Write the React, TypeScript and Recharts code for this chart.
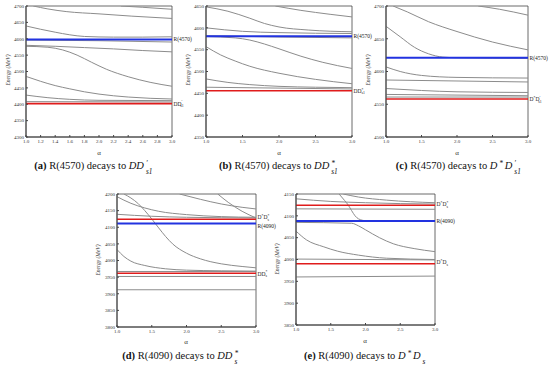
import React from "react";
import { LineChart, Line, XAxis, YAxis, ReferenceLine, ReferenceArea } from "recharts";

type Pt = [number, number];
type Seg = { t: string; sup?: string; sub?: string };

// alpha ticks
const xTicksFine = [1.0, 1.2, 1.4, 1.6, 1.8, 2.0, 2.2, 2.4, 2.6, 2.8, 3.0];
const xTicksHalf = [1.0, 1.5, 2.0, 2.5, 3.0];

// (a) R(4570) -> DD's1
const aTicks = [4300, 4350, 4400, 4450, 4500, 4550, 4600, 4650, 4700];
const aLevels: Pt[][] = [
  [[1.1, 4700], [1.3, 4691], [1.55, 4683], [2.0, 4676], [2.45, 4669], [3.0, 4662]],
  [[2.3, 4700], [2.6, 4696], [3.0, 4690]],
  [[1.0, 4639], [1.2, 4629], [1.4, 4620], [1.6, 4612], [1.8, 4607], [2.2, 4605], [2.6, 4605], [3.0, 4606]],
  [[1.0, 4596], [2.0, 4594], [3.0, 4590]],
  [[1.0, 4580], [1.4, 4577], [1.8, 4573], [2.2, 4569], [2.6, 4564], [3.0, 4560]],
  [[1.0, 4577], [1.3, 4574], [1.5, 4566], [1.7, 4550], [1.9, 4528], [2.1, 4507], [2.4, 4484], [2.7, 4467], [3.0, 4455]],
  [[1.0, 4485], [1.2, 4470], [1.4, 4457], [1.6, 4447], [1.8, 4438], [2.0, 4431], [2.4, 4422], [3.0, 4416]],
  [[1.0, 4428], [1.3, 4420], [1.6, 4415], [2.0, 4412], [3.0, 4411]],
  [[1.0, 4408], [3.0, 4407]],
];
const aState = 4598;
const aThreshold = 4402;

// (b) R(4570) -> DD*s1
const bTicks = [4350, 4400, 4450, 4500, 4550, 4600, 4650];
const bLevels: Pt[][] = [
  [[1.0, 4648], [1.3, 4638], [1.6, 4622], [1.8, 4610], [2.0, 4602], [2.4, 4595], [3.0, 4591]],
  [[1.95, 4650], [2.3, 4640], [2.7, 4631], [3.0, 4625]],
  [[1.0, 4600], [1.5, 4592], [2.0, 4589], [3.0, 4587]],
  [[1.0, 4582], [2.0, 4579], [3.0, 4577]],
  [[1.0, 4580], [1.4, 4577], [1.6, 4572], [1.8, 4563], [2.0, 4552], [2.3, 4535], [2.6, 4521], [3.0, 4507]],
  [[1.0, 4557], [1.2, 4538], [1.4, 4524], [1.6, 4512], [2.0, 4496], [2.5, 4482], [3.0, 4472]],
  [[1.0, 4483], [1.3, 4475], [1.6, 4470], [2.0, 4466], [2.5, 4464], [3.0, 4463]],
  [[1.0, 4464], [3.0, 4460]],
];
const bState = 4581;
const bThreshold = 4456;

// (c) R(4570) -> D*D's1
const cTicks = [4500, 4550, 4600, 4650, 4700];
const cLevels: Pt[][] = [
  [[1.1, 4700], [1.3, 4691], [1.6, 4676], [2.0, 4661], [2.5, 4645], [3.0, 4633]],
  [[2.3, 4700], [2.6, 4695], [3.0, 4686]],
  [[1.0, 4669], [1.2, 4653], [1.4, 4637], [1.6, 4627], [1.8, 4622], [2.0, 4621], [3.0, 4620]],
  [[1.0, 4607], [1.2, 4600], [1.5, 4594], [2.0, 4591], [3.0, 4590]],
  [[1.0, 4587], [3.0, 4584]],
  [[1.0, 4574], [1.5, 4571], [2.0, 4569], [3.0, 4568]],
  [[1.0, 4565], [3.0, 4563]],
  [[1.0, 4561], [3.0, 4561]],
];
const cState = 4621;
const cThreshold = 4558;

// (d) R(4090) -> DD*s
const dTicks = [3800, 3850, 3900, 3950, 4000, 4050, 4100, 4150, 4200];
const dLevels: Pt[][] = [
  [[1.0, 4192], [1.2, 4172], [1.4, 4158], [1.6, 4148], [2.0, 4138], [2.5, 4132], [3.0, 4130]],
  [[1.1, 4200], [1.2, 4188], [1.3, 4172], [1.4, 4150], [1.5, 4125], [1.6, 4098], [1.7, 4072], [1.8, 4050], [2.0, 4022], [2.2, 4005], [2.5, 3990], [2.8, 3982], [3.0, 3978]],
  [[1.0, 4139], [1.5, 4133], [2.0, 4130], [3.0, 4128]],
  [[1.9, 4200], [2.2, 4184], [2.5, 4170], [2.8, 4160], [3.0, 4155]],
  [[2.45, 4200], [2.6, 4175], [2.8, 4148], [3.0, 4128]],
  [[1.0, 4033], [1.1, 4012], [1.2, 3998], [1.4, 3985], [1.7, 3975], [2.0, 3971], [2.5, 3969], [3.0, 3968]],
  [[1.0, 3967], [3.0, 3967]],
  [[1.0, 3952], [3.0, 3952]],
  [[1.0, 3912], [3.0, 3912]],
];
const dUpper = 4124;
const dState = 4111;
const dThreshold = 3962;

// (e) R(4090) -> D*Ds
const eTicks = [3850, 3900, 3950, 4000, 4050, 4100, 4150];
const eLevels: Pt[][] = [
  [[1.0, 4139], [1.5, 4133], [2.0, 4130], [2.5, 4128], [3.0, 4127]],
  [[1.68, 4150], [1.9, 4143], [2.3, 4136], [3.0, 4130]],
  [[1.0, 4116], [3.0, 4115]],
  [[1.62, 4150], [1.7, 4135], [1.75, 4125], [1.8, 4112], [1.85, 4100], [1.9, 4093], [2.0, 4089], [3.0, 4088]],
  [[1.0, 4085], [1.8, 4083], [1.9, 4077], [2.0, 4068], [2.2, 4050], [2.4, 4036], [2.7, 4025], [3.0, 4018]],
  [[1.0, 4065], [1.15, 4045], [1.4, 4029], [1.6, 4019], [1.9, 4010], [2.3, 4003], [3.0, 4000]],
  [[1.0, 4001], [3.0, 3999]],
  [[1.0, 3960], [3.0, 3962]],
];
const eUpper = 4124;
const eState = 4088;
const eThreshold = 3990;

const GRAY = "#8c8c8c";
const BLUE = "#2233e0";
const RED = "#e01c1c";
const SERIF = "'Liberation Serif', serif";
const tickStyle = { fontFamily: SERIF, fontSize: 5, fill: "#333" };

function SymText({ x, y, segs, size = 5.5 }: { x: number; y: number; segs: Seg[]; size?: number }) {
  const out: React.ReactNode[] = [];
  let off = 0;
  segs.forEach((s, i) => {
    out.push(<tspan key={i + "m"} dy={-off}>{s.t}</tspan>);
    off = 0;
    if (s.sup) {
      out.push(<tspan key={i + "p"} dy={-size * 0.4} fontSize={size * 0.7}>{s.sup}</tspan>);
      off = -size * 0.4;
    }
    if (s.sub) {
      const back = s.sup ? -size * 0.35 * s.sup.length : 0;
      out.push(<tspan key={i + "b"} dx={back} dy={size * 0.3 - off} fontSize={size * 0.7}>{s.sub}</tspan>);
      off = size * 0.3;
    }
  });
  return (
    <text x={x} y={y} fontSize={size} fontFamily={SERIF} fill="#222">
      {out}
    </text>
  );
}

type Mark = { value: number; color: string; width: number; segs: Seg[]; dy: number };

function Panel(props: {
  x: number; y: number; w: number; h: number;
  domain: [number, number]; yTicks: number[]; xTicks: number[];
  levels: Pt[][]; marks: Mark[];
}) {
  const { x, y, w, h, domain, yTicks, xTicks, levels, marks } = props;
  const YW = 24, XH = 16, MT = 4, MR = 40;
  return (
    <div style={{ position: "absolute", left: x - YW, top: y - MT }}>
      <LineChart width={YW + w + MR} height={MT + h + XH} margin={{ top: MT, right: MR, bottom: 0, left: 0 }}>
        <XAxis
          type="number" dataKey="a" domain={[1, 3]} ticks={xTicks} height={XH}
          tickFormatter={(v: number) => v.toFixed(1)} tick={tickStyle}
          stroke="#444" tickSize={-2} tickMargin={4} interval={0} allowDuplicatedCategory={false}
        />
        <YAxis
          type="number" domain={domain} ticks={yTicks} width={YW} tick={tickStyle}
          stroke="#444" tickSize={-2} tickMargin={4} interval={0} allowDataOverflow
        />
        <ReferenceArea x1={1} x2={3} y1={domain[0]} y2={domain[1]} fill="none" stroke="#444" strokeWidth={0.8} />
        {levels.map((pts, i) => (
          <Line
            key={i}
            data={pts.map(([a, e]) => ({ a, e }))}
            dataKey="e" type="monotone" stroke={GRAY} strokeWidth={1}
            dot={false} activeDot={false} isAnimationActive={false}
          />
        ))}
        {marks.map((m, i) => (
          <ReferenceLine
            key={"m" + i} y={m.value} stroke={m.color} strokeWidth={m.width}
            label={(p: any) => {
              const vb = p.viewBox || {};
              return <SymText x={vb.x + vb.width + 1.5} y={vb.y + m.dy} segs={m.segs} />;
            }}
          />
        ))}
      </LineChart>
    </div>
  );
}

// prime/star stacked above a subscript, as in D'_{s1}
function SupSub({ sup, sub }: { sup?: string; sub?: string }) {
  const wide = Math.max((sup || "").length, (sub || "").length);
  const small = { position: "absolute" as const, left: 2, fontSize: 7.3, fontStyle: "italic", lineHeight: "7px" };
  return (
    <span style={{ position: "relative", display: "inline-block", width: wide * 4.4 + 3, height: 1 }}>
      {sup && <span style={{ ...small, bottom: 2 }}>{sup}</span>}
      {sub && <span style={{ ...small, bottom: -6 }}>{sub}</span>}
    </span>
  );
}

function Caption({ cx, top, tag, state, children }: { cx: number; top: number; tag: string; state: string; children: React.ReactNode }) {
  return (
    <div style={{ position: "absolute", left: cx - 100, top, width: 200, textAlign: "center", fontFamily: SERIF, fontSize: 10.5, lineHeight: "12px", color: "#111", whiteSpace: "nowrap" }}>
      <b>({tag})</b> {state} decays to {children}
    </div>
  );
}

function YTitle({ cx, cy }: { cx: number; cy: number }) {
  return (
    <div style={{ position: "absolute", left: cx - 18, top: cy - 4, width: 36, textAlign: "center", fontFamily: SERIF, fontStyle: "italic", fontSize: 5.5, lineHeight: "8px", color: "#333", whiteSpace: "nowrap", transform: "rotate(-90deg)" }}>
      Energy (MeV)
    </div>
  );
}

function XTitle({ cx, top }: { cx: number; top: number }) {
  return (
    <div style={{ position: "absolute", left: cx - 10, top, width: 20, textAlign: "center", fontFamily: SERIF, fontSize: 7, color: "#333" }}>α</div>
  );
}

const R4570: Seg[] = [{ t: "R(4570)" }];
const R4090: Seg[] = [{ t: "R(4090)" }];

export default function App() {
  return (
    <div style={{ position: "absolute", left: 0, top: 0, width: 550, height: 366, background: "#fff", overflow: "hidden" }}>
      <Panel x={26} y={6} w={146} h={131} domain={[4300, 4700]} yTicks={aTicks} xTicks={xTicksFine} levels={aLevels}
        marks={[
          { value: aState, color: BLUE, width: 2, segs: R4570, dy: 2 },
          { value: aThreshold, color: RED, width: 1.8, segs: [{ t: "DD", sup: "′", sub: "s1" }], dy: 2 },
        ]} />
      <Panel x={206} y={6} w={146} h={131} domain={[4350, 4650]} yTicks={bTicks} xTicks={xTicksHalf} levels={bLevels}
        marks={[
          { value: bState, color: BLUE, width: 2, segs: R4570, dy: 2 },
          { value: bThreshold, color: RED, width: 1.6, segs: [{ t: "DD", sup: "*", sub: "s1" }], dy: 2 },
        ]} />
      <Panel x={386} y={6} w={142} h={131} domain={[4500, 4700]} yTicks={cTicks} xTicks={xTicksHalf} levels={cLevels}
        marks={[
          { value: cState, color: BLUE, width: 2, segs: R4570, dy: 2 },
          { value: cThreshold, color: RED, width: 1.6, segs: [{ t: "D", sup: "*" }, { t: "D", sup: "′", sub: "s1" }], dy: 2 },
        ]} />
      <Panel x={117} y={194} w={139} h={133} domain={[3800, 4200]} yTicks={dTicks} xTicks={xTicksHalf} levels={dLevels}
        marks={[
          { value: dUpper, color: RED, width: 1.5, segs: [{ t: "D", sup: "*" }, { t: "D", sup: "*", sub: "s" }], dy: 0 },
          { value: dState, color: BLUE, width: 2, segs: R4090, dy: 4.5 },
          { value: dThreshold, color: RED, width: 1.5, segs: [{ t: "DD", sup: "*", sub: "s" }], dy: 2.5 },
        ]} />
      <Panel x={296} y={194} w={139} h={131} domain={[3850, 4150]} yTicks={eTicks} xTicks={xTicksHalf} levels={eLevels}
        marks={[
          { value: eUpper, color: RED, width: 1.5, segs: [{ t: "D", sup: "*" }, { t: "D", sup: "*", sub: "s" }], dy: 1 },
          { value: eState, color: BLUE, width: 2, segs: R4090, dy: 2 },
          { value: eThreshold, color: RED, width: 1.5, segs: [{ t: "D", sup: "*" }, { t: "D", sub: "s" }], dy: 0 },
        ]} />

      <YTitle cx={8} cy={70} />
      <YTitle cx={188} cy={70} />
      <YTitle cx={368} cy={70} />
      <YTitle cx={98} cy={260} />
      <YTitle cx={277} cy={259} />

      <XTitle cx={99} top={149} />
      <XTitle cx={279} top={149} />
      <XTitle cx={457} top={149} />
      <XTitle cx={186} top={338} />
      <XTitle cx={365} top={337} />

      <Caption cx={95} top={160} tag="a" state="R(4570)">
        <i>DD</i><SupSub sup="′" sub="s1" />
      </Caption>
      <Caption cx={280} top={160} tag="b" state="R(4570)">
        <i>DD</i><SupSub sup="*" sub="s1" />
      </Caption>
      <Caption cx={460} top={160} tag="c" state="R(4570)">
        <i>D</i><SupSub sup="*" /><i>D</i><SupSub sup="′" sub="s1" />
      </Caption>
      <Caption cx={181} top={350} tag="d" state="R(4090)">
        <i>DD</i><SupSub sup="*" sub="s" />
      </Caption>
      <Caption cx={366} top={350} tag="e" state="R(4090)">
        <i>D</i><SupSub sup="*" /><i>D</i><SupSub sub="s" />
      </Caption>
    </div>
  );
}
